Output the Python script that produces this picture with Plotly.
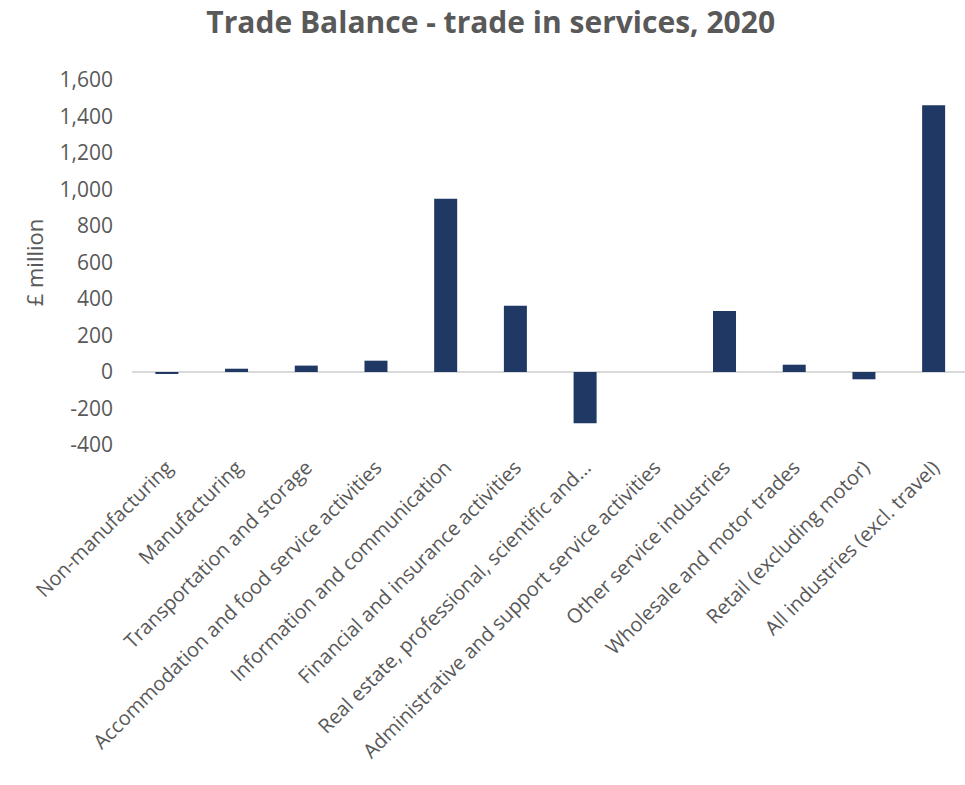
import plotly.graph_objects as go

categories = [
    "Non-manufacturing",
    "Manufacturing",
    "Transportation and storage",
    "Accommodation and food service activities",
    "Information and communication",
    "Financial and insurance activities",
    "Real estate, professional, scientific and...",
    "Administrative and support service activities",
    "Other service industries",
    "Wholesale and motor trades",
    "Retail (excluding motor)",
    "All industries (excl. travel)",
]
values = [-8, 18, 35, 62, 950, 363, -281, 0, 334, 40, -40, 1461]

y_tickvals = [-400, -200, 0, 200, 400, 600, 800, 1000, 1200, 1400, 1600]
y_ticktext = ["-400", "-200", "0", "200", "400", "600", "800", "1,000", "1,200", "1,400", "1,600"]

GRAY = "#595959"
FONT = "Open Sans"

fig = go.Figure(
    go.Bar(
        x=categories,
        y=values,
        marker=dict(color="#1f3864", line=dict(width=0)),
    )
)

fig.update_layout(
    width=965,
    height=785,
    paper_bgcolor="white",
    plot_bgcolor="white",
    bargap=0.67,
    showlegend=False,
    margin=dict(l=132, r=0, t=80, b=340),
    font=dict(family=FONT, color=GRAY),
    title=dict(
        text="<b>Trade Balance - trade in services, 2020</b>",
        x=0.5085,
        xanchor="center",
        y=0.971,
        yanchor="middle",
        font=dict(family=FONT, size=30, color=GRAY),
    ),
)

fig.update_xaxes(
    type="category",
    range=[-0.5, 11.45],
    tickangle=-45,
    tickfont=dict(family=FONT, size=20, color=GRAY),
    showgrid=False,
    showline=False,
    zeroline=False,
    ticks="",
    ticklabelstandoff=6,
    automargin=False,
)

fig.update_yaxes(
    range=[-400, 1600],
    tickvals=y_tickvals,
    ticktext=y_ticktext,
    tickfont=dict(family=FONT, size=21, color=GRAY),
    showgrid=False,
    zeroline=True,
    zerolinecolor="#d9d9d9",
    zerolinewidth=2,
    showline=False,
    ticks="",
    ticklabelstandoff=18,
    automargin=False,
    title=dict(text="£ million", font=dict(family=FONT, size=22, color=GRAY), standoff=9),
)

fig.write_html(
    "out.html",
    config={"displayModeBar": False},
    post_script="document.body.style.margin='0';",
)
